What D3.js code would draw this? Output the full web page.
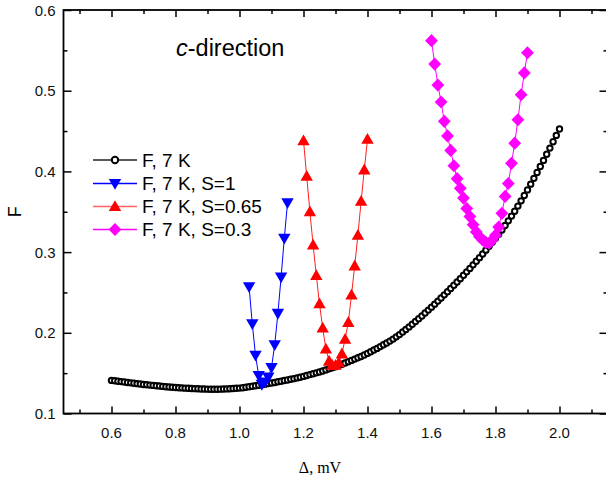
<!DOCTYPE html>
<html>
<head>
<meta charset="utf-8">
<script src="https://cdn.jsdelivr.net/npm/d3@7"></script>
<style>
html,body{margin:0;padding:0;background:#fff;}
svg{display:block;font-family:"Liberation Sans",Arial,sans-serif;}
</style>
</head>
<body>
<svg id="chart" width="606" height="484"></svg>
<script>
// ---------- data ----------
const blackX = [0.60,0.61,0.62,0.63,0.64,0.65,0.66,0.67,0.68,0.69,0.70,0.71,0.72,0.73,0.74,0.75,0.76,0.77,0.78,0.79,
0.80,0.81,0.82,0.83,0.84,0.85,0.86,0.87,0.88,0.89,0.90,0.91,0.92,0.93,0.94,0.95,0.96,0.97,0.98,0.99,
1.00,1.01,1.02,1.03,1.04,1.05,1.06,1.07,1.08,1.09,1.10,1.11,1.12,1.13,1.14,1.15,1.16,1.17,1.18,1.19,
1.20,1.21,1.22,1.23,1.24,1.25,1.26,1.27,1.28,1.29,1.30,1.31,1.32,1.33,1.34,1.35,1.36,1.37,1.38,1.39,
1.40,1.41,1.42,1.43,1.44,1.45,1.46,1.47,1.48,1.49,1.50,1.51,1.52,1.53,1.54,1.55,1.56,1.57,1.58,1.59,
1.60,1.61,1.62,1.63,1.64,1.65,1.66,1.67,1.68,1.69,1.70,1.71,1.72,1.73,1.74,1.75,1.76,1.77,1.78,1.79,
1.80,1.81,1.82,1.83,1.84,1.85,1.86,1.87,1.88,1.89,1.90,1.91,1.92,1.93,1.94,1.95,1.96,1.97,1.98,1.99,2.00];
const blackF = [0.1410,0.1405,0.1400,0.1395,0.1390,0.1385,0.1380,0.1375,0.1370,0.1365,0.1360,0.1356,0.1352,0.1348,0.1344,0.1340,0.1336,0.1332,0.1329,0.1326,
0.1323,0.1320,0.1317,0.1314,0.1312,0.1310,0.1308,0.1306,0.1304,0.1303,0.1302,0.1301,0.1301,0.1301,0.1302,0.1303,0.1305,0.1307,0.1309,0.1312,
0.1315,0.1320,0.1325,0.1331,0.1337,0.1343,0.1350,0.1357,0.1364,0.1371,0.1378,0.1385,0.1393,0.1400,0.1408,0.1416,0.1424,0.1432,0.1441,0.1450,
0.1460,0.1471,0.1482,0.1493,0.1504,0.1515,0.1527,0.1540,0.1553,0.1566,0.1580,0.1595,0.1610,0.1626,0.1642,0.1658,0.1674,0.1690,0.1707,0.1725,
0.1745,0.1765,0.1786,0.1807,0.1829,0.1851,0.1874,0.1897,0.1922,0.1950,0.1978,0.2009,0.2041,0.2073,0.2106,0.2140,0.2174,0.2209,0.2245,0.2281,
0.2318,0.2355,0.2393,0.2431,0.2470,0.2509,0.2549,0.2589,0.2630,0.2671,0.2713,0.2755,0.2798,0.2842,0.2886,0.2931,0.2977,0.3024,0.3072,0.3121,
0.3171,0.3222,0.3275,0.3330,0.3387,0.3446,0.3507,0.3570,0.3635,0.3702,0.3771,0.3842,0.3914,0.3987,0.4061,0.4136,0.4212,0.4289,0.4367,0.4446,0.4526];

const blueX = [1.03,1.04,1.05,1.06,1.07,1.08,1.09,1.10,1.11,1.12,1.13,1.14,1.15];
const blueF = [0.257,0.211,0.172,0.147,0.136,0.139,0.145,0.157,0.185,0.224,0.269,0.317,0.361];

const redX = [1.20,1.21,1.22,1.23,1.24,1.25,1.26,1.27,1.28,1.29,1.30,1.31,1.32,1.33,1.34,1.35,1.36,1.37,1.38,1.39,1.40];
const redF = [0.438,0.394,0.350,0.309,0.271,0.236,0.206,0.180,0.165,0.160,0.160,0.163,0.174,0.192,0.213,0.247,0.283,0.321,0.363,0.402,0.440];

const magX = [1.60,1.61,1.62,1.63,1.64,1.65,1.66,1.67,1.68,1.69,1.70,1.71,1.72,1.73,1.74,1.75,1.76,1.77,1.78,1.79,
1.80,1.81,1.82,1.83,1.84,1.85,1.86,1.87,1.88,1.89,1.90];
const magF = [0.562,0.533,0.507,0.486,0.462,0.444,0.426,0.407,0.391,0.379,0.367,0.354,0.344,0.334,0.325,0.319,0.315,0.312,0.311,0.315,
0.321,0.331,0.348,0.369,0.385,0.410,0.435,0.464,0.495,0.522,0.547];

const seriesNames = ["F, 7 K","F, 7 K, S=1","F, 7 K, S=0.65","F, 7 K, S=0.3"];
const xTicks = [0.6,0.8,1.0,1.2,1.4,1.6,1.8,2.0];
const yTicks = [0.1,0.2,0.3,0.4,0.5,0.6];
const xTitle = "\u0394, mV";
const yTitle = "F";

// ---------- layout ----------
const svg = d3.select("#chart");
const L = 63.5, R = 607.5, T = 10, B = 413.5;
const x = d3.scaleLinear().domain([0.45, 2.15]).range([L, R]);
const y = d3.scaleLinear().domain([0.1, 0.6]).range([B, T]);

const zip = (xs, ys) => xs.map((v, i) => [v, ys[i]]);
const series = [
  {name: seriesNames[0], data: zip(blackX, blackF), line: "#222", marker: "circle"},
  {name: seriesNames[1], data: zip(blueX, blueF), line: "#0000ff", color: "#0000ff", marker: "down"},
  {name: seriesNames[2], data: zip(redX, redF), line: "#ff2020", color: "#ff0000", marker: "up"},
  {name: seriesNames[3], data: zip(magX, magF), line: "#ff00ff", color: "#ff00ff", marker: "diamond"}
];

function markerPath(type) {
  if (type === "down") return "M-6.2,-4.6L6.2,-4.6L0,6.2Z";
  if (type === "up") return "M-6.2,4.6L6.2,4.6L0,-6.2Z";
  if (type === "diamond") return "M0,-6.6L6.4,0L0,6.6L-6.4,0Z";
  return null;
}
function drawMarker(g, type, color, cx, cy, legend) {
  if (type === "circle") {
    g.append("circle").attr("cx", cx).attr("cy", cy).attr("r", legend ? 3.2 : 2.7)
      .attr("fill", "#fff").attr("stroke", "#000").attr("stroke-width", 2);
  } else {
    g.append("path").attr("d", markerPath(type))
      .attr("transform", `translate(${cx},${cy})`).attr("fill", color);
  }
}

const line = d3.line().x(d => x(d[0])).y(d => y(d[1]));
const plot = svg.append("g");
series.forEach(s => {
  plot.append("path").datum(s.data).attr("d", line)
    .attr("fill", "none").attr("stroke", s.line).attr("stroke-width", 1);
  const g = plot.append("g");
  s.data.forEach(d => drawMarker(g, s.marker, s.color, x(d[0]), y(d[1]), false));
});

// ---------- axes ----------
const xMinor = d3.range(0.5, 2.15, 0.1).filter(v => !xTicks.some(t => Math.abs(t - v) < 1e-6));
const yMinor = [0.15,0.25,0.35,0.45,0.55];

const axG = svg.append("g");
function ticks(axis, vals, len) {
  if (axis === "bottom") axG.append("g").attr("transform", `translate(0,${B})`).call(d3.axisBottom(x).tickValues(vals).tickSize(-len).tickFormat(""));
  if (axis === "top") axG.append("g").attr("transform", `translate(0,${T})`).call(d3.axisTop(x).tickValues(vals).tickSize(-len).tickFormat(""));
  if (axis === "left") axG.append("g").attr("transform", `translate(${L},0)`).call(d3.axisLeft(y).tickValues(vals).tickSize(-len).tickFormat(""));
  if (axis === "right") axG.append("g").attr("transform", `translate(${R},0)`).call(d3.axisRight(y).tickValues(vals).tickSize(-len).tickFormat(""));
}
["bottom","top"].forEach(a => { ticks(a, xTicks, 7); ticks(a, xMinor, 4); });
["left","right"].forEach(a => { ticks(a, yTicks, 8); ticks(a, yMinor, 4); });
axG.selectAll(".domain").remove();
axG.selectAll(".tick line").attr("stroke", "#000").attr("stroke-width", 1.5);
svg.append("rect").attr("x", L).attr("y", T).attr("width", R - L).attr("height", B - T)
  .attr("fill", "none").attr("stroke", "#000").attr("stroke-width", 1.8);

// tick labels
const labG = svg.append("g").attr("font-size", 15).attr("fill", "#111");
xTicks.forEach(t => labG.append("text").attr("x", x(t)).attr("y", B + 24)
  .attr("text-anchor", "middle").text(d3.format(".1f")(t)));
yTicks.forEach(t => labG.append("text").attr("x", L - 8).attr("y", y(t) + 5.5)
  .attr("text-anchor", "end").text(d3.format(".1f")(t)));

// axis titles
svg.append("text").attr("x", 320).attr("y", 473).attr("text-anchor", "middle")
  .attr("font-family", "'Liberation Serif','Times New Roman',serif").attr("font-size", 16).text(xTitle);
svg.append("text").attr("transform", `translate(21,${(T + B) / 2}) rotate(-90)`)
  .attr("text-anchor", "middle").attr("font-size", 18).text(yTitle);

// inner title
const title = svg.append("text").attr("x", 176).attr("y", 56).attr("font-size", 23.5);
title.append("tspan").attr("font-style", "italic").text("c");
title.append("tspan").text("-direction");

// legend
const legY = [160, 183.5, 206.5, 229.5];
series.forEach((s, i) => {
  const g = svg.append("g");
  g.append("line").attr("x1", 93).attr("x2", 137).attr("y1", legY[i]).attr("y2", legY[i])
    .attr("stroke", i === 2 ? "#ff6060" : s.line).attr("stroke-width", 1.3);
  drawMarker(g, s.marker, s.color, 115, legY[i], true);
  g.append("text").attr("x", 142).attr("y", legY[i] + 6.5).attr("font-size", 19).text(s.name);
});
</script>
</body>
</html>
